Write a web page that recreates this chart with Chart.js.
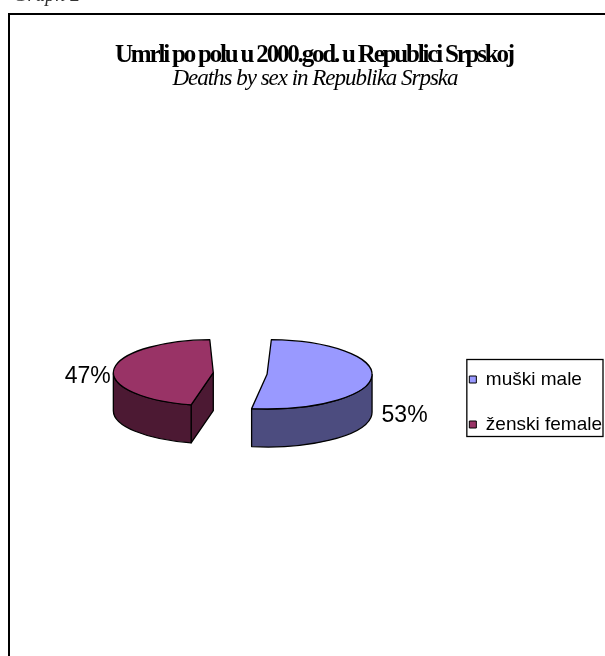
<!DOCTYPE html>
<html>
<head>
<meta charset="utf-8">
<script src="https://cdn.jsdelivr.net/npm/chart.js@4.4.1/dist/chart.umd.min.js"></script>
<style>
  html, body { margin: 0; padding: 0; background: #fff; overflow: hidden; }
  #frame { position: absolute; left: 8px; top: 13px; width: 640px; height: 700px; border: 2px solid #000; box-sizing: border-box; }
  #chart { position: absolute; left: 0; top: 0; }
</style>
</head>
<body>
<div id="frame"></div>
<canvas id="chart" width="625" height="656"></canvas>
<script>
// data
const categories = ['muški male', 'ženski female'];
const shares = [53, 47];

const titleText = 'Umrli po polu u 2000.god. u Republici Srpskoj';
const subtitleText = 'Deaths by sex in Republika Srpska';

// styles
const topColors = ['#9999FF', '#993366'];
const sideColors = ['#4C4C7F', '#4C1933'];
const TILT = 0.33;     // vertical squash of the pie
const DEPTH = 38;      // thickness of the 3d slab
const EDGE = 1.3;

// geometry of the top face as the arc element draws it (v4: offset / 4,
// radius grows and the angles shrink a little when a slice is pulled out)
function face(arc) {
    const off = (arc.options.offset || 0) / 4;
    const mid = (arc.startAngle + arc.endAngle) / 2;
    const fix = 1 - Math.sin(Math.min(Math.PI, arc.circumference || 0));
    const rOff = off * fix;
    const r = arc.outerRadius + rOff;
    const alpha = arc.endAngle - arc.startAngle;
    const beta = Math.max(0.001, alpha * r - rOff / Math.PI) / r;
    const d = (alpha - beta) / 2;
    return {
        x: arc.x + Math.cos(mid) * off,
        y: arc.y + TILT * Math.sin(mid) * off,
        r: r,
        ry: r * TILT,
        s: arc.startAngle + d,
        e: arc.endAngle - d
    };
}

function drawSides(ctx, arc, i) {
    const f = face(arc);
    ctx.save();
    ctx.fillStyle = sideColors[i];
    ctx.strokeStyle = '#000';
    ctx.lineWidth = EDGE;
    ctx.lineJoin = 'round';

    // radial cut faces turned towards the viewer
    [[f.s, Math.cos(f.s) < -1e-6], [f.e, Math.cos(f.e) > 1e-6]].forEach(([a, show]) => {
        if (!show) return;
        const px = f.x + f.r * Math.cos(a);
        const py = f.y + f.ry * Math.sin(a);
        ctx.beginPath();
        ctx.moveTo(f.x, f.y);
        ctx.lineTo(px, py);
        ctx.lineTo(px, py + DEPTH);
        ctx.lineTo(f.x, f.y + DEPTH);
        ctx.closePath();
        ctx.fill();
        ctx.stroke();
    });

    // front part of the rim
    const a0 = Math.max(f.s, 0);
    const a1 = Math.min(f.e, Math.PI);
    if (a1 > a0) {
        ctx.beginPath();
        ctx.ellipse(f.x, f.y, f.r, f.ry, 0, a0, a1);
        ctx.ellipse(f.x, f.y + DEPTH, f.r, f.ry, 0, a1, a0, true);
        ctx.closePath();
        ctx.fill();
        ctx.stroke();
    }
    ctx.restore();
}

function drawLabels(ctx, arcs) {
    const total = shares.reduce((a, b) => a + b, 0);
    ctx.save();
    ctx.font = '23px "Liberation Sans", Arial, sans-serif';
    ctx.fillStyle = '#000';
    ctx.textBaseline = 'middle';
    arcs.forEach((arc, i) => {
        const f = face(arc);
        const mid = (f.s + f.e) / 2;
        const px = f.x + f.r * Math.cos(mid);
        const py = f.y + f.ry * Math.sin(mid);
        const txt = Math.round(shares[i] / total * 100) + '%';
        if (Math.cos(mid) >= 0) {
            ctx.textAlign = 'left';
            ctx.fillText(txt, px + 10, py + DEPTH);
        } else {
            ctx.textAlign = 'right';
            ctx.fillText(txt, px - 3, py + 7);
        }
    });
    ctx.restore();
}

// squeeze text into the width the original title takes
function fitText(ctx, text, font, cx, y, width) {
    ctx.save();
    ctx.font = font;
    ctx.fillStyle = '#000';
    ctx.textAlign = 'left';
    ctx.textBaseline = 'alphabetic';
    const w = ctx.measureText(text).width;
    if ('letterSpacing' in ctx) {
        ctx.letterSpacing = ((width - w) / text.length) + 'px';
        ctx.fillText(text, cx - width / 2, y);
    } else {
        ctx.translate(cx - width / 2, y);
        ctx.scale(width / w, 1);
        ctx.fillText(text, 0, 0);
    }
    ctx.restore();
}

const pie3d = {
    id: 'pie3d',
    beforeDatasetsDraw(chart) {
        const ctx = chart.ctx;
        const arcs = chart.getDatasetMeta(0).data;
        drawLabels(ctx, arcs);
        arcs.forEach((arc, i) => drawSides(ctx, arc, i));
        const cy = arcs[0].y;
        ctx.save();
        ctx.translate(0, cy);
        ctx.scale(1, TILT);
        ctx.translate(0, -cy);
    },
    afterDatasetsDraw(chart) {
        const ctx = chart.ctx;
        ctx.restore();
        const arcs = chart.getDatasetMeta(0).data;
        ctx.save();
        ctx.strokeStyle = '#000';
        ctx.lineWidth = EDGE;
        ctx.lineJoin = 'round';
        arcs.forEach(arc => {
            const f = face(arc);
            ctx.beginPath();
            ctx.moveTo(f.x, f.y);
            ctx.ellipse(f.x, f.y, f.r, f.ry, 0, f.s, f.e);
            ctx.closePath();
            ctx.stroke();
        });
        ctx.restore();
    },
    afterDraw(chart) {
        const ctx = chart.ctx;
        fitText(ctx, titleText, 'bold 25px "Liberation Serif", "Times New Roman", serif', 314, 62, 398);
        fitText(ctx, subtitleText, 'italic 23px "Liberation Serif", "Times New Roman", serif', 315, 85, 285);

        // caption above the frame, mostly cut off by the page edge
        ctx.save();
        ctx.font = 'italic 20px "Liberation Serif", serif';
        ctx.fillStyle = '#333';
        ctx.textAlign = 'left';
        ctx.textBaseline = 'alphabetic';
        ctx.fillText('Graph 2', 13, 1);
        ctx.restore();

        // box around the legend
        const hb = chart.legend.legendHitBoxes;
        if (hb && hb.length) {
            const last = hb[hb.length - 1];
            const left = hb[0].left - 2.5;
            const right = Math.max(...hb.map(h => h.left + h.width)) + 1;
            const top = hb[0].top - 10.5;
            const bottom = last.top + last.height + 2.5;
            ctx.save();
            ctx.strokeStyle = '#000';
            ctx.lineWidth = EDGE;
            ctx.strokeRect(left, top, right - left, bottom - top);
            ctx.restore();
        }
    }
};

new Chart(document.getElementById('chart'), {
    type: 'pie',
    data: {
        labels: categories,
        datasets: [{
            data: shares,
            backgroundColor: topColors,
            borderWidth: 0,
            offset: 108,
            hoverOffset: 0,
            clip: false
        }]
    },
    options: {
        responsive: false,
        devicePixelRatio: 1,
        animation: false,
        events: [],
        radius: 78,
        layout: { padding: { left: 37, right: 13, top: 100, bottom: 9 } },
        plugins: {
            title: { display: false },
            tooltip: { enabled: false },
            legend: {
                position: 'right',
                align: 'center',
                title: { display: true, text: '', font: { size: 10, lineHeight: 1.2 }, padding: { top: 45, bottom: 0 } },
                labels: {
                    boxWidth: 7,
                    boxHeight: 7,
                    padding: 26,
                    color: '#000',
                    font: { family: '"Liberation Sans", Arial, sans-serif', size: 19 },
                    generateLabels: () => categories.map((c, i) => ({
                        text: c,
                        fillStyle: topColors[i],
                        strokeStyle: '#000',
                        lineWidth: 1,
                        fontColor: '#000',
                        hidden: false,
                        index: i
                    }))
                }
            }
        }
    },
    plugins: [pie3d]
});
</script>
</body>
</html>
